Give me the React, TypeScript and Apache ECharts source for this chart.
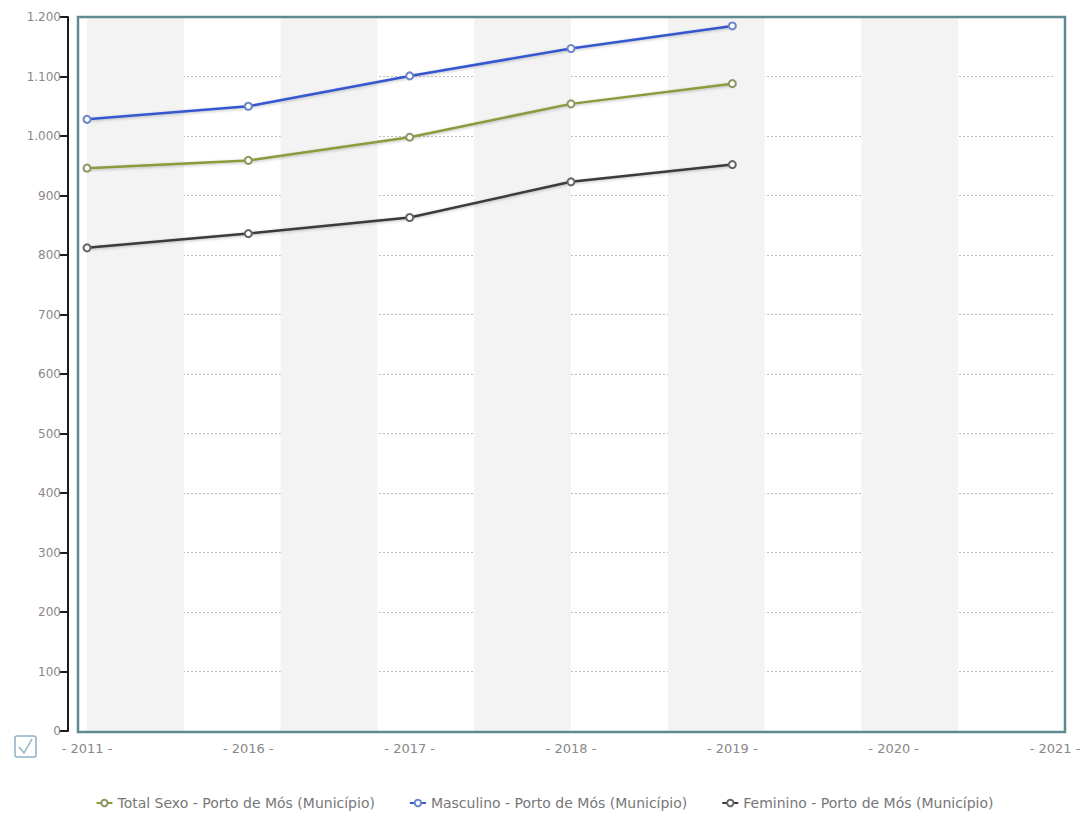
import React, { useEffect, useRef } from "react";
import * as echarts from "echarts";

const years = ["2011", "2016", "2017", "2018", "2019", "2020", "2021"];
const totalSexo = [946, 959, 998, 1054, 1088, null, null];
const masculino = [1028, 1050, 1101, 1147, 1185, null, null];
const feminino = [812, 836, 863, 923, 952, null, null];
const bandCats = ["b1", "b2", "b3", "b4", "b5", "b6", "b7", "b8", "b9", "b10"];
const seriesNames = [
  "Total Sexo - Porto de Mós (Município)",
  "Masculino - Porto de Mós (Município)",
  "Feminino - Porto de Mós (Município)",
];
const seriesColors = ["#8a9a3c", "#3557cf", "#3a3a3a"];
const markerColors = ["#8f9560", "#6b86c8", "#666666"];

export default function App() {
  const ref = useRef<HTMLDivElement>(null);
  useEffect(() => {
    const chart = echarts.init(ref.current!, null, { renderer: "svg" });
    const font = "Verdana, 'DejaVu Sans', sans-serif";
    const datasets = [totalSexo, masculino, feminino];
    chart.setOption({
      animation: false,
      backgroundColor: "#ffffff",
      textStyle: { fontFamily: font },
      grid: { left: 87, right: 34, top: 17, bottom: 92, containLabel: false },
      legend: {
        bottom: 8,
        left: "center",
        itemGap: 34,
        itemWidth: 16,
        itemHeight: 8,
        textStyle: { color: "#777", fontSize: 14, fontFamily: font },
        data: seriesNames,
      },
      xAxis: [
        {
          type: "category",
          data: years,
          boundaryGap: false,
          axisLine: { show: false },
          axisTick: { show: false },
          axisLabel: {
            color: "#888",
            fontSize: 13,
            margin: 11,
            formatter: (v: string) => "- " + v + " -",
          },
          splitLine: { show: false },
        },
        {
          type: "category",
          data: bandCats,
          boundaryGap: true,
          position: "bottom",
          axisLine: { show: false },
          axisTick: { show: false },
          axisLabel: { show: false },
          splitLine: { show: false },
          splitArea: {
            show: true,
            interval: 0,
            areaStyle: { color: ["#f3f3f3", "rgba(255,255,255,0)"] },
          },
        },
      ],
      yAxis: {
        type: "value",
        min: 0,
        max: 1200,
        interval: 100,
        offset: 19,
        axisLine: { show: true, lineStyle: { color: "#1a1a1a", width: 2 } },
        axisTick: { show: true, length: 9, lineStyle: { color: "#1a1a1a", width: 2 } },
        axisLabel: {
          color: "#888",
          fontSize: 12,
          margin: 7,
          formatter: (v: number) => v.toLocaleString("de-DE"),
        },
        splitLine: {
          show: true,
          lineStyle: { color: "#bdbdbd", type: [2, 2], width: 1 },
        },
      },
      graphic: [
        {
          type: "rect",
          shape: { x: 78, y: 17, width: 987, height: 715 },
          style: { fill: "none", stroke: "#5f8a90", lineWidth: 2.5 },
          silent: true,
          z: 10,
        },
        {
          type: "rect",
          shape: { x: 15, y: 736, width: 21, height: 21, r: 2 },
          style: { fill: "#fff", stroke: "#8fb3c4", lineWidth: 1.5 },
        },
        {
          type: "polyline",
          shape: { points: [[19, 747], [24, 753], [32, 739]] },
          style: { stroke: "#8fb3c4", lineWidth: 1.5, fill: "none" },
        },
      ],
      series: seriesNames.map((name, i) => ({
        name,
        type: "line",
        data: datasets[i],
        xAxisIndex: 0,
        symbol: "emptyCircle",
        symbolSize: 7,
        lineStyle: {
          width: 2.5,
          color: seriesColors[i],
          shadowColor: "rgba(0,0,0,0.25)",
          shadowBlur: 3,
          shadowOffsetY: 1,
        },
        itemStyle: { color: markerColors[i], borderWidth: 1.3 },
        z: 5,
      })),
    });
    return () => chart.dispose();
  }, []);
  return <div ref={ref} style={{ width: 1089, height: 823, position: "absolute", left: 0, top: 0 }} />;
}
